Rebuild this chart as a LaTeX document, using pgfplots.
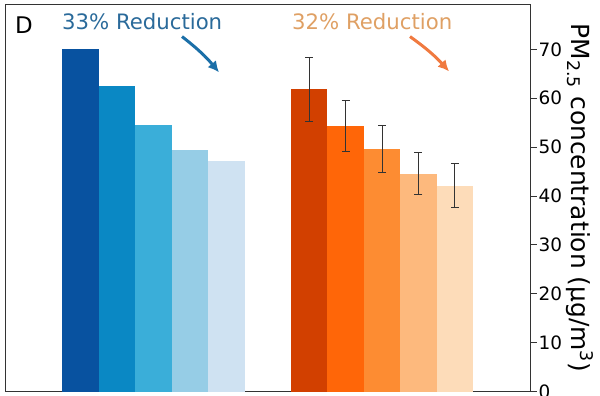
\documentclass[border=0pt]{standalone}
\usepackage{pgfplots}
\pgfplotsset{compat=1.18}
\usepackage{fontspec}
\setmainfont{DejaVu Sans}
\usetikzlibrary{arrows.meta}
\definecolor{b1}{HTML}{0852A0}
\definecolor{b2}{HTML}{0A88C4}
\definecolor{b3}{HTML}{3AAED9}
\definecolor{b4}{HTML}{96CDE6}
\definecolor{b5}{HTML}{CFE2F2}
\definecolor{o1}{HTML}{D24000}
\definecolor{o2}{HTML}{FF6608}
\definecolor{o3}{HTML}{FD8C32}
\definecolor{o4}{HTML}{FDB97D}
\definecolor{o5}{HTML}{FDDCB9}
\definecolor{bluetxt}{HTML}{2A6A9A}
\definecolor{orgtxt}{HTML}{DFA064}
\definecolor{bluearr}{HTML}{1B6FA8}
\definecolor{orgarr}{HTML}{F07A40}
\definecolor{axcol}{HTML}{333333}
\begin{document}
\begin{tikzpicture}
\useasboundingbox (0,0) rectangle (600bp,396bp);
\begin{axis}[
  at={(5bp,4.3bp)}, anchor=south west,
  scale only axis, width=525.5bp, height=387.4bp,
  xmin=5, xmax=530.5, ymin=0, ymax=79.2,
  xtick=\empty,
  ytick={0,10,20,30,40,50,60,70},
  ytick pos=right, yticklabel pos=right,
  tick align=outside, major tick length=6bp,
  axis line style={axcol, line width=1pt},
  every tick/.style={axcol, line width=1pt},
  /pgf/number format/assume math mode=true,
  yticklabel style={font=\fontsize{18.5}{18.5}\selectfont, inner sep=1bp, xshift=1bp},
  ylabel={PM\textsubscript{2.5} concentration (μg/m\textsuperscript{3})},
  ylabel style={font=\fontsize{25}{25}\selectfont, rotate=180},
  clip=false,
]
\addplot[ybar, bar shift=0pt, bar width=36.6, fill=b1, draw=none] coordinates {(80.3,70.0)};
\addplot[ybar, bar shift=0pt, bar width=36.6, fill=b2, draw=none] coordinates {(116.9,62.5)};
\addplot[ybar, bar shift=0pt, bar width=36.6, fill=b3, draw=none] coordinates {(153.5,54.6)};
\addplot[ybar, bar shift=0pt, bar width=36.6, fill=b4, draw=none] coordinates {(190.1,49.5)};
\addplot[ybar, bar shift=0pt, bar width=36.6, fill=b5, draw=none] coordinates {(226.7,47.2)};
\pgfplotsset{eb/.style={error bars/.cd, y dir=both, y explicit,
   error bar style={axcol, line width=1pt},
   error mark options={rotate=90, mark size=4bp, axcol, line width=1pt}}}
\addplot[ybar, bar shift=0pt, bar width=36.4, fill=o1, draw=none, eb] coordinates {(309.2,61.9) += (0,6.4) -= (0,6.7)};
\addplot[ybar, bar shift=0pt, bar width=36.4, fill=o2, draw=none, eb] coordinates {(345.6,54.4) += (0,5.2) -= (0,5.3)};
\addplot[ybar, bar shift=0pt, bar width=36.4, fill=o3, draw=none, eb] coordinates {(382.0,49.7) += (0,4.7) -= (0,4.9)};
\addplot[ybar, bar shift=0pt, bar width=36.4, fill=o4, draw=none, eb] coordinates {(418.4,44.5) += (0,4.3) -= (0,4.1)};
\addplot[ybar, bar shift=0pt, bar width=36.4, fill=o5, draw=none, eb] coordinates {(454.8,42.0) += (0,4.7) -= (0,4.3)};
\node[anchor=base west, inner sep=0pt, font=\fontsize{23}{23}\selectfont] at (axis cs:15,73.3) {D};
\node[anchor=base west, inner sep=0pt, text=bluetxt, font=\fontsize{21.3}{21.3}\selectfont] at (axis cs:62,74.1) {33\% Reduction};
\node[anchor=base west, inner sep=0pt, text=orgtxt, font=\fontsize{21.3}{21.3}\selectfont] at (axis cs:292,74.1) {32\% Reduction};
\draw[bluearr, line width=3pt, -{Latex[length=11bp,width=11bp]}] (axis cs:182,72.6) to[bend left=6] (axis cs:219,65.3);
\draw[orgarr, line width=3pt, -{Latex[length=11bp,width=11bp]}] (axis cs:410,72.6) to[bend left=6] (axis cs:449,65.5);
\end{axis}
\end{tikzpicture}
\end{document}
